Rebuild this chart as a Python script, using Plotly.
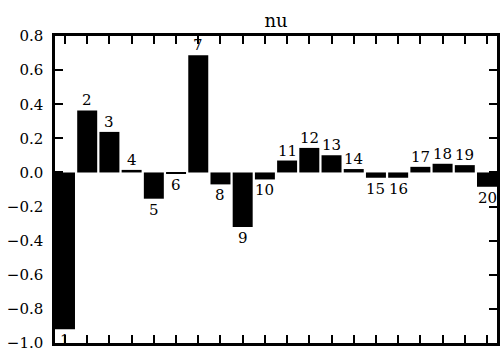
import plotly.graph_objects as go

categories = list(range(1, 21))
labels = [str(c) for c in categories]
values = [-0.92, 0.364, 0.238, 0.015, -0.154, -0.008, 0.688, -0.07, -0.32, -0.041,
          0.07, 0.144, 0.101, 0.02, -0.031, -0.031, 0.033, 0.051, 0.043, -0.084]
ytick_vals = [-1.0, -0.8, -0.6, -0.4, -0.2, 0.0, 0.2, 0.4, 0.6, 0.8]
ytick_text = ["\u22121.0", "\u22120.8", "\u22120.6", "\u22120.4", "\u22120.2",
              "0.0", "0.2", "0.4", "0.6", "0.8"]

FONT = "DejaVu Serif, serif"

fig = go.Figure()
fig.add_trace(go.Bar(
    x=categories, y=values, width=[0.9] * len(categories),
    marker=dict(color="black", line=dict(width=0)),
    cliponaxis=True,
))

for c, v, lab in zip(categories, values, labels):
    fig.add_annotation(
        x=c, y=v, text=lab, showarrow=False,
        yanchor="bottom" if v >= 0 else "top",
        yshift=0 if v >= 0 else -1,
        font=dict(family=FONT, size=15, color="black"),
        borderpad=0,
    )

fig.update_layout(
    width=500, height=352,
    margin=dict(l=55, r=0, t=36, b=8),
    paper_bgcolor="white", plot_bgcolor="white",
    showlegend=False,
    title=dict(text="nu", x=0.5, xref="paper", y=1, yref="paper",
               yanchor="bottom", pad=dict(b=9),
               font=dict(family=FONT, size=18, color="black")),
    font=dict(family=FONT, size=15, color="black"),
)
fig.update_xaxes(
    range=[0.55, 20.45], tickvals=categories, showticklabels=False,
    ticks="inside", ticklen=8, tickwidth=1.5, tickcolor="black",
    showline=True, linewidth=2.5, linecolor="black", mirror="ticks",
    showgrid=False, zeroline=False,
)
fig.update_yaxes(
    range=[-1.0008, 0.8008], tickvals=ytick_vals, ticktext=ytick_text,
    ticks="inside", ticklen=8, tickwidth=1.5, tickcolor="black",
    showline=True, linewidth=2.5, linecolor="black", mirror="ticks",
    showgrid=False, zeroline=False, ticklabelstandoff=6,
    ticklabeloverflow="allow",
    tickfont=dict(family=FONT, size=15, color="black"),
)

fig.write_html("out.html")
